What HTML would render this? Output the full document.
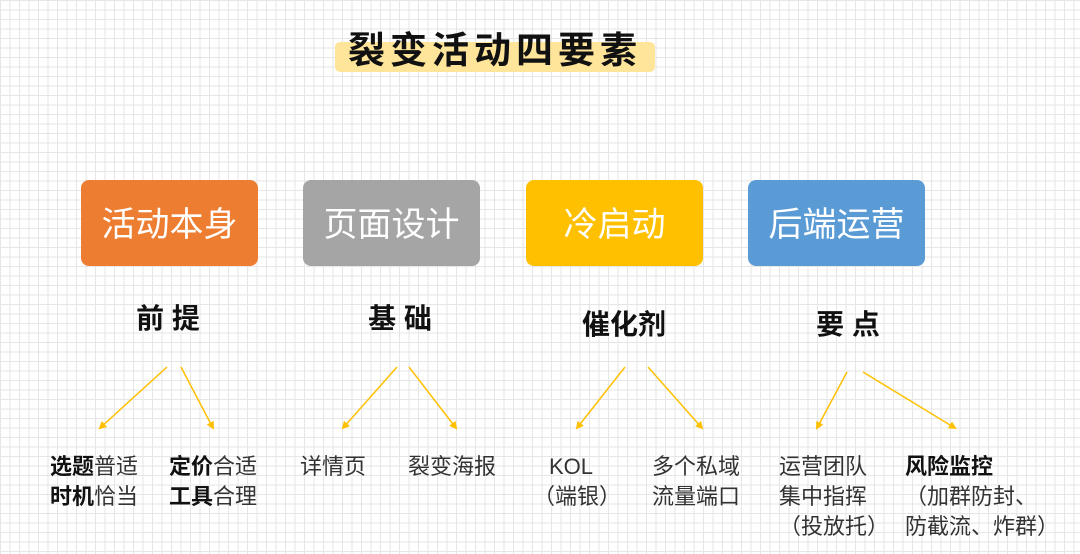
<!DOCTYPE html>
<html><head><meta charset="utf-8"><style>
body{margin:0;width:1080px;height:554px;overflow:hidden;position:relative;font-family:"Liberation Sans","Noto Sans CJK SC",sans-serif;
background-color:#fff;background-image:linear-gradient(#e6e6e6 1px,transparent 1px),linear-gradient(90deg,#e6e6e6 1px,transparent 1px);background-size:9.5px 9.5px;}
.a{position:absolute}
.box{position:absolute;top:180px;height:86px;width:177px;border-radius:8px;color:#fff;font-size:34px;display:flex;align-items:center;justify-content:center;padding-bottom:4px;box-sizing:border-box}
.lb{position:absolute;font-size:28px;font-weight:bold;color:#111;text-align:center;width:200px}
.t{position:absolute;font-size:22px;color:#333;line-height:30px;white-space:nowrap}
.t b{color:#111}
</style></head><body>
<div class="a" style="left:335px;top:42px;width:320px;height:30px;background:#ffe59a;border-radius:5px"></div>
<div class="a" style="left:290px;top:20px;width:410px;text-align:center;font-size:37px;font-weight:bold;color:#111;letter-spacing:5px">裂变活动四要素</div>
<div class="box" style="left:81px;background:#ed7d31">活动本身</div>
<div class="box" style="left:303px;background:#a5a5a5">页面设计</div>
<div class="box" style="left:526px;background:#ffc000">冷启动</div>
<div class="box" style="left:748px;background:#5b9bd5">后端运营</div>
<div class="lb" style="left:68px;top:297px">前 提</div>
<div class="lb" style="left:300px;top:297px">基 础</div>
<div class="lb" style="left:524px;top:303px">催化剂</div>
<div class="lb" style="left:748px;top:303px">要 点</div>
<svg class="a" style="left:0;top:0" width="1080" height="554">
<defs><marker id="m" markerWidth="8" markerHeight="8" refX="6" refY="4" orient="auto" markerUnits="userSpaceOnUse"><path d="M0,0 L8,4 L0,8 z" fill="#ffc000"/></marker></defs>
<g stroke="#ffc000" stroke-width="1.5" marker-end="url(#m)">
<line x1="167" y1="367" x2="100" y2="428"/><line x1="181" y1="367" x2="213" y2="428"/>
<line x1="397" y1="367" x2="343" y2="428"/><line x1="409" y1="367" x2="456" y2="428"/>
<line x1="625" y1="367" x2="577" y2="428"/><line x1="648" y1="367" x2="702" y2="428"/>
<line x1="847" y1="372" x2="817" y2="428"/><line x1="863" y1="372" x2="955" y2="428"/>
</g></svg>
<div class="t" style="left:50px;top:452px"><b>选题</b>普适<br><b>时机</b>恰当</div>
<div class="t" style="left:169px;top:452px"><b>定价</b>合适<br><b>工具</b>合理</div>
<div class="t" style="left:300px;top:452px">详情页</div>
<div class="t" style="left:408px;top:452px">裂变海报</div>
<div class="t" style="left:533px;top:452px;text-align:center;width:76px">KOL<br>（端银）</div>
<div class="t" style="left:652px;top:452px">多个私域<br>流量端口</div>
<div class="t" style="left:779px;top:452px">运营团队<br>集中指挥<br>（投放托）</div>
<div class="t" style="left:905px;top:452px"><b>风险监控</b><br>（加群防封、<br>防截流、炸群）</div>
</body></html>
